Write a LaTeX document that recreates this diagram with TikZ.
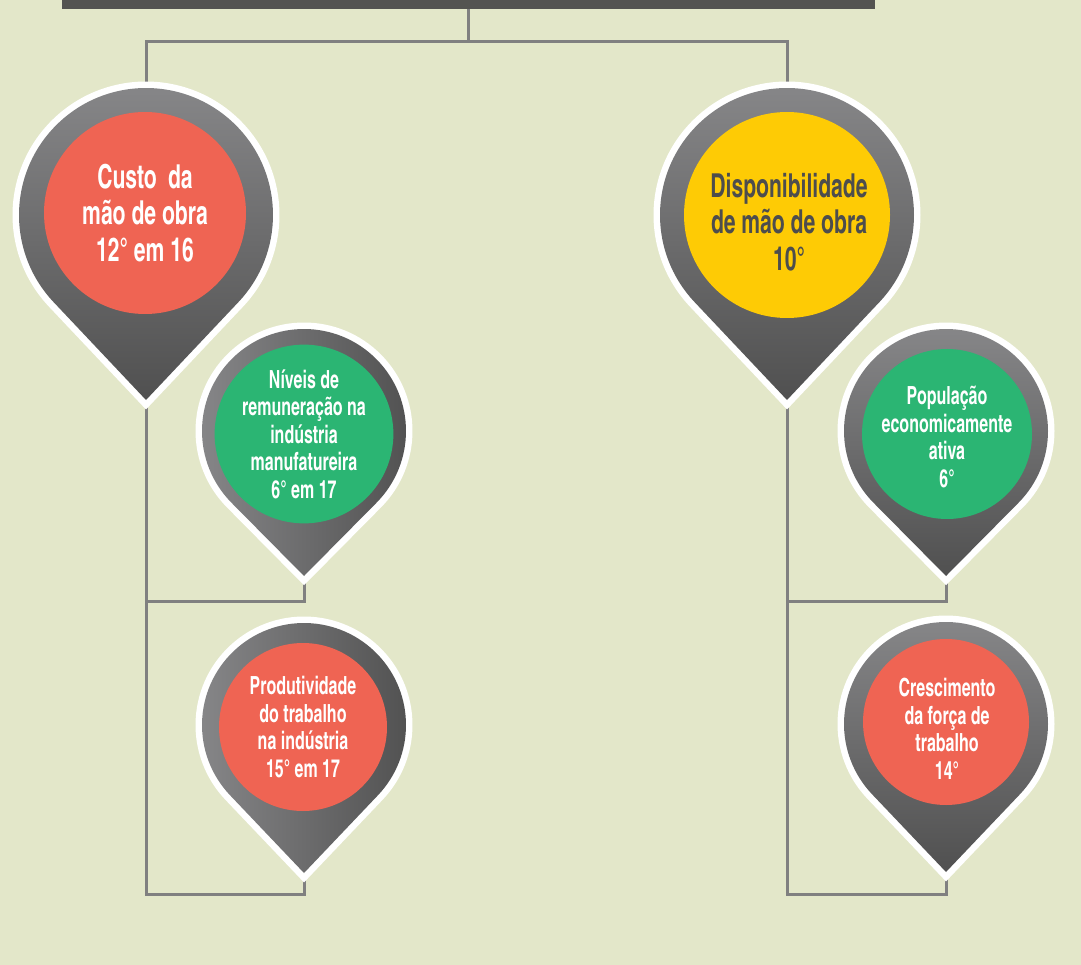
\documentclass[tikz,border=0pt]{standalone}
\usepackage{fontspec}
\setmainfont{texgyreheroscn}[Extension=.otf, UprightFont=*-bold, FakeStretch=0.78]
\usetikzlibrary{backgrounds}
\definecolor{bgc}{HTML}{E3E7C9}
\definecolor{barc}{HTML}{545451}
\definecolor{connc}{HTML}{808080}
\definecolor{redc}{HTML}{EF6453}
\definecolor{greenc}{HTML}{2BB573}
\definecolor{yellowc}{HTML}{FECB05}
\definecolor{darktxt}{HTML}{4D4D4D}
\definecolor{gtop}{HTML}{88888A}
\definecolor{gbot}{HTML}{505050}
\tikzset{
  conn/.style={draw=connc, line width=3pt},
  bigtxt/.style={circle, inner sep=0pt, align=center, font=\fontsize{33}{36.5}\selectfont},
  smalltxt/.style={circle, inner sep=0pt, align=center, font=\fontsize{25}{27.5}\selectfont},
  vshade/.style={top color=gtop, bottom color=gbot},
  hshade/.style={left color=gtop, right color=gbot},
}
% name, cx, cy, R, d, shading style
\newcommand\mypin[6]{%
  \pgfmathsetmacro\pinsa{90+acos(#4/#5)}%
  \pgfmathsetmacro\pinea{450-acos(#4/#5)}%
  \draw[white, line width=13pt, line join=miter, miter limit=20]
    (#2,#3+#5) -- ([shift={(#2,#3)}]\pinsa:#4) arc[start angle=\pinsa, end angle=\pinea, radius=#4] -- cycle;
  \shade[#6]
    (#2,#3+#5) -- ([shift={(#2,#3)}]\pinsa:#4) arc[start angle=\pinsa, end angle=\pinea, radius=#4] -- cycle;
  \coordinate (#1tip) at (#2,#3+#5);
  \coordinate (#1top) at (#2,#3-#4);
}
\begin{document}
\begin{tikzpicture}[x=1pt,y=-1pt]
\begin{scope}[on background layer]
\fill[bgc] (0,0) rectangle (1081,965);
\end{scope}
\useasboundingbox (0,0) rectangle (1081,965);

\node[fill=barc, minimum width=813pt, minimum height=8.5pt, inner sep=0pt, anchor=north west] (bar) at (62,0) {};

% pins
\mypin{A}{146}{215}{127}{185}{vshade}
\mypin{B}{787}{215}{127}{185}{vshade}
\mypin{Aa}{304}{431}{102}{145}{hshade}
\mypin{Ab}{304}{725}{102}{148}{hshade}
\mypin{Ba}{946}{431}{102}{145}{vshade}
\mypin{Bb}{946}{724}{102}{148}{vshade}

\node[bigtxt, fill=redc, minimum size=202pt, text=white] (A) at (145,213) {Custo\, da\\mão de obra\\12° em 16};
\node[bigtxt, fill=yellowc, minimum size=206pt, text=darktxt] (B) at (787,215) {};
\node[bigtxt, text=darktxt] (Bt) at (789,222) {Disponibilidade\\de mão de obra\\10°};
\node[smalltxt, fill=greenc, minimum size=164pt, text=white] (Aa) at (304,434) {Níveis de\\remuneração na\\indústria\\manufatureira\\6° em 17};
\node[smalltxt, fill=redc, minimum size=168pt, text=white] (Ab) at (303,727) {Produtividade\\do trabalho\\na indústria\\15° em 17};
\node[smalltxt, fill=greenc, minimum size=170pt, text=white] (Ba) at (947,434) {};
\node[smalltxt, text=white] (Bat) at (947,437) {População\\economicamente\\ativa\\6°};
\node[smalltxt, fill=redc, minimum size=166pt, text=white] (Bb) at (946,722) {};
\node[smalltxt, text=white] (Bbt) at (947,729) {Crescimento\\da força de\\trabalho\\14°};

% connectors
\coordinate (jL) at (146,42);
\coordinate (jR) at (787,42);
\coordinate (Lmid) at (146,601);
\coordinate (Lbot) at (146,894);
\coordinate (Rmid) at (787,601);
\coordinate (Rbot) at (787,894);
\begin{scope}[on background layer]
\draw[conn] (bar.south) -- (bar.south |- jL);
\draw[conn] (Atop) -- (jL) -- (jR) -- (Btop);
\draw[conn] (Atip) -- (Lbot) -- (Lbot -| Abtip) -- (Abtip);
\draw[conn] (Lmid) -- (Lmid -| Aatip) -- (Aatip);
\draw[conn] (Btip) -- (Rbot) -- (Rbot -| Bbtip) -- (Bbtip);
\draw[conn] (Rmid) -- (Rmid -| Batip) -- (Batip);
\end{scope}
\end{tikzpicture}
\end{document}
